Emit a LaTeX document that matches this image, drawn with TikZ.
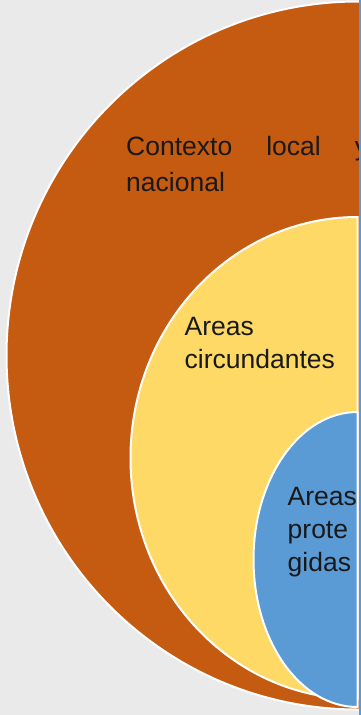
\documentclass[tikz,border=0pt]{standalone}
\usepackage{fontspec}
\setmainfont{Liberation Sans}

\definecolor{bggray}{HTML}{EAEAEA}
\definecolor{ctxorange}{HTML}{C55A11}
\definecolor{areayellow}{HTML}{FFD966}
\definecolor{protblue}{HTML}{5B9BD5}

\tikzset{
  ring/.style={draw=white, line width=2pt},
  lbl/.style={anchor=north west, inner sep=0pt, align=left, text=black!90}
}

\begin{document}
\begin{tikzpicture}[x=1pt,y=-1pt]
    \useasboundingbox (0,0) rectangle (361,715);
    \fill[bggray] (0,0) rectangle (361,715);

    % Outer half ring
    \filldraw[ring, fill=ctxorange] (358,1.5) arc[start angle=90, end angle=270, x radius=351.5pt, y radius=354pt]
        -- (364,709.5) -- (364,1.5) -- cycle;

    % Middle half ring
    \filldraw[ring, fill=areayellow] (357.5,217) arc[start angle=90, end angle=270, x radius=227pt, y radius=241pt] -- cycle;

    % Inner half ring
    \filldraw[ring, fill=protblue] (357.5,412) arc[start angle=90, end angle=270, x radius=104pt, y radius=147.5pt] -- cycle;

    % Labels
    \node[lbl, text width=242pt, align=justify, font=\fontsize{26.5}{36}\selectfont] (contexto) at (126,136.5)
        {Contexto local y\linebreak nacional};
    \node[lbl, font=\fontsize{26.5}{33}\selectfont] (circund) at (184.5,317.5) {Areas\\circundantes};
    \node[lbl, font=\fontsize{26.5}{33}\selectfont] (protegidas) at (287.5,487.5) {Areas\\prote\\gidas};

    % Right edge strip
    \fill[protblue] (358.5,0) rectangle (361,715);
\end{tikzpicture}
\end{document}
